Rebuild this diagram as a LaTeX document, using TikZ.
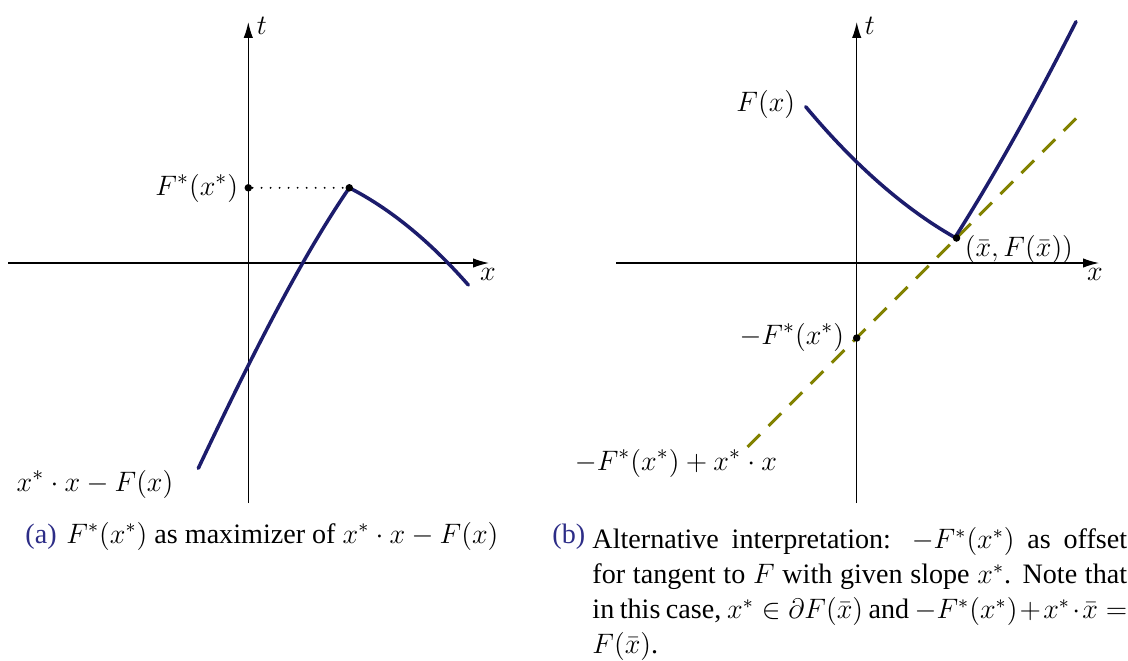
\documentclass[tikz,border=0pt]{standalone}
\usepackage{fontspec}
\setmainfont{Liberation Serif}
\usetikzlibrary{arrows.meta}
\definecolor{curvenavy}{RGB}{28,28,108}
\definecolor{labnavy}{RGB}{45,45,135}
\definecolor{tanolive}{RGB}{130,130,0}
\begin{document}
\begin{tikzpicture}[x=0.015cm,y=-0.015cm,
  axis/.style={line width=0.55pt,-{Latex[length=6.8pt,width=4pt]}},
  fcurve/.style={curvenavy,line width=1.5pt,line cap=round},
  tangent/.style={tanolive,line width=1.3pt,dash pattern=on 7.6pt off 5.12pt},
  guide/.style={line width=0.9pt,dash pattern=on 0pt off 3.85pt,line cap=round},
  pt/.style={circle,fill=black,inner sep=0pt,minimum size=3.2pt},
  lab/.style={font=\fontsize{13}{15.5}\selectfont,inner sep=1pt},
  captxt/.style={font=\fontsize{12}{14.94}\selectfont,inner sep=0pt}]
\useasboundingbox (0,0) rectangle (1128,660);
% ---------- left plot ----------
\coordinate (lxs) at (8,263);
\coordinate (lxe) at (489,263);
\coordinate (lts) at (248.3,503);
\coordinate (lte) at (248.3,22);
\draw[axis] (lxs) -- (lxe);
\draw[axis] (lts) -- (lte);
\node[lab,anchor=west] (lt) at (254,26) {$t$};
\node[lab,anchor=north] (lx) at (488,266) {$x$};
\coordinate (ga) at (198.3,468.3);
\coordinate (gpk) at (349.3,187.8);
\coordinate (gb) at (468.3,285);
\draw[fcurve] (ga) .. controls (248.6,362.2) and (299,261.2) .. (gpk)
  .. controls (388.3,207.7) and (428.3,239.4) .. (gb);
\node[pt] (fstar) at (248.3,187.8) {};
\node[pt] (peak) at (gpk) {};
\draw[guide] (fstar) -- (peak);
\node[lab,anchor=east] (lfs) at (241,188) {$F^*(x^*)$};
\node[lab] (lg) at (95,484) {$x^*\cdot x - F(x)$};
% ---------- right plot ----------
\coordinate (rxs) at (616,263);
\coordinate (rxe) at (1099,263);
\coordinate (rts) at (856.7,503);
\coordinate (rte) at (856.7,22);
\draw[axis] (rxs) -- (rxe);
\draw[axis] (rts) -- (rte);
\node[lab,anchor=west] (rt) at (862,26) {$t$};
\node[lab,anchor=north] (rx) at (1095,266) {$x$};
\coordinate (fa) at (805.7,106.7);
\coordinate (fk) at (955,237.5);
\coordinate (fb) at (1076,21.7);
\coordinate (ta) at (747.5,447);
\coordinate (tb) at (1076,118.5);
\draw[tangent] (ta) -- (tb);
\draw[fcurve] (fa) .. controls (854.9,165.7) and (905.5,209.5) .. (fk)
  .. controls (995.5,173.5) and (1035.1,102.3) .. (fb);
\node[pt] (kink) at (956.5,238) {};
\node[pt] (off) at (856.7,338) {};
\node[lab,anchor=east] (rF) at (798,104) {$F(x)$};
\node[lab,anchor=west] (rk) at (962,249) {$(\bar x,F(\bar x))$};
\node[lab,anchor=east] (roff) at (847,337) {$-F^*(x^*)$};
\node[lab] (rtl) at (676,463) {$-F^*(x^*)+x^*\cdot x$};
% ---------- captions ----------
\node[captxt,anchor=base west,text=labnavy] (capa) at (25,543) {(a)};
\node[captxt,anchor=base west] (capatext) at (66,543) {$F^*(x^*)$ as maximizer of $x^*\cdot x - F(x)$};
\node[captxt,anchor=base west,text=labnavy] (capb) at (552,543) {(b)};
\node[captxt,anchor=north west,text width=8.02cm,align=justify] (capbtext) at (592,527)
  {Alternative interpretation: $-F^*(x^*)$ as offset\linebreak
   for tangent to $F$ with given slope $x^*$. Note that\linebreak
   in this case, $x^*\in\partial F(\bar x)$ and $-F^*(x^*)+x^*\cdot\bar x=$\linebreak
   $F(\bar x)$.};
\end{tikzpicture}
\end{document}
